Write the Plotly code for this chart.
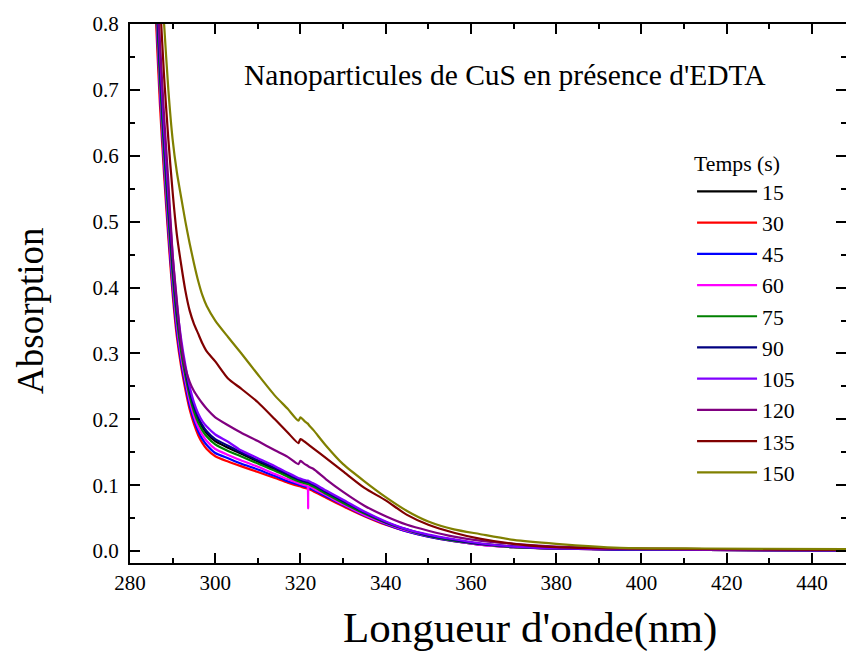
import plotly.graph_objects as go

# longueurs d'onde (nm) communes à tous les spectres
wl = [285, 286, 287, 288, 289, 290, 291, 292, 293, 294, 295, 296, 297, 298, 300, 303, 306, 310,
      314, 317, 319.5, 320, 321, 321.6, 321.8, 322, 323, 326, 330, 335, 340, 345, 350, 356, 362,
      370, 380, 395, 415, 448]

# absorption pour chaque temps (s)
abs_15 = [1.045, 0.87, 0.73, 0.615, 0.518, 0.43, 0.36, 0.31, 0.272, 0.24, 0.217, 0.2, 0.188, 0.179,
          0.167, 0.157, 0.148, 0.136, 0.124, 0.115, 0.108, 0.107, 0.105, 0.104, 0.104, 0.103, 0.100,
          0.089, 0.075, 0.058, 0.044, 0.032, 0.024, 0.017, 0.011, 0.007, 0.004, 0.003, 0.002, 0.001]
abs_30 = [1.00, 0.82, 0.68, 0.57, 0.475, 0.39, 0.325, 0.28, 0.245, 0.215, 0.193, 0.176, 0.164, 0.155,
          0.144, 0.136, 0.129, 0.120, 0.111, 0.104, 0.099, 0.098, 0.096, 0.095, 0.094, 0.094, 0.091,
          0.081, 0.068, 0.053, 0.040, 0.030, 0.022, 0.015, 0.010, 0.006, 0.004, 0.002, 0.002, 0.001]
abs_45 = [1.02, 0.84, 0.70, 0.585, 0.486, 0.40, 0.334, 0.287, 0.252, 0.221, 0.199, 0.182, 0.17, 0.161,
          0.149, 0.141, 0.133, 0.124, 0.114, 0.106, 0.101, 0.100, 0.098, 0.097, 0.096, 0.096, 0.093,
          0.083, 0.070, 0.054, 0.041, 0.030, 0.022, 0.015, 0.010, 0.006, 0.004, 0.002, 0.002, 0.001]
abs_60 = [1.03, 0.85, 0.71, 0.595, 0.497, 0.41, 0.343, 0.295, 0.259, 0.228, 0.205, 0.188, 0.176, 0.167,
          0.155, 0.146, 0.138, 0.128, 0.117, 0.109, 0.103, 0.102, 0.100, 0.099, 0.065, 0.098, 0.095,
          0.085, 0.071, 0.055, 0.042, 0.031, 0.023, 0.016, 0.010, 0.006, 0.004, 0.003, 0.002, 0.001]
abs_75 = [1.04, 0.86, 0.72, 0.605, 0.508, 0.42, 0.352, 0.303, 0.266, 0.235, 0.212, 0.195, 0.183, 0.174,
          0.162, 0.152, 0.144, 0.133, 0.122, 0.113, 0.106, 0.105, 0.103, 0.102, 0.102, 0.101, 0.098,
          0.087, 0.073, 0.057, 0.043, 0.032, 0.023, 0.016, 0.011, 0.006, 0.004, 0.003, 0.002, 0.001]
abs_90 = [1.05, 0.88, 0.74, 0.625, 0.525, 0.435, 0.365, 0.314, 0.275, 0.243, 0.22, 0.203, 0.191, 0.182,
          0.170, 0.160, 0.150, 0.138, 0.126, 0.117, 0.109, 0.108, 0.106, 0.105, 0.105, 0.104, 0.101,
          0.090, 0.076, 0.059, 0.044, 0.033, 0.024, 0.017, 0.011, 0.007, 0.004, 0.003, 0.002, 0.001]
abs_105 = [1.06, 0.90, 0.76, 0.64, 0.54, 0.45, 0.375, 0.322, 0.282, 0.25, 0.226, 0.209, 0.197, 0.189,
           0.177, 0.166, 0.153, 0.141, 0.129, 0.119, 0.111, 0.110, 0.108, 0.107, 0.107, 0.106, 0.103,
           0.092, 0.078, 0.060, 0.045, 0.033, 0.025, 0.018, 0.012, 0.007, 0.004, 0.003, 0.002, 0.001]
abs_120 = [1.07, 0.91, 0.775, 0.66, 0.56, 0.45, 0.38, 0.315, 0.278, 0.257, 0.243, 0.233, 0.224, 0.216,
           0.203, 0.191, 0.180, 0.167, 0.153, 0.143, 0.132, 0.137, 0.132, 0.130, 0.129, 0.128, 0.125,
           0.109, 0.090, 0.069, 0.053, 0.040, 0.031, 0.022, 0.016, 0.011, 0.007, 0.004, 0.003, 0.002]
abs_135 = [1.15, 0.97, 0.84, 0.72, 0.625, 0.545, 0.48, 0.435, 0.395, 0.365, 0.345, 0.33, 0.315, 0.303,
           0.288, 0.262, 0.247, 0.226, 0.200, 0.180, 0.164, 0.170, 0.166, 0.163, 0.162, 0.161, 0.156,
           0.141, 0.121, 0.096, 0.077, 0.055, 0.040, 0.028, 0.019, 0.011, 0.006, 0.004, 0.003, 0.002]
abs_150 = [1.25, 1.05, 0.91, 0.80, 0.70, 0.625, 0.575, 0.537, 0.500, 0.467, 0.437, 0.410, 0.388, 0.372,
           0.350, 0.325, 0.301, 0.268, 0.236, 0.216, 0.198, 0.203, 0.197, 0.194, 0.193, 0.191, 0.184,
           0.160, 0.132, 0.106, 0.082, 0.061, 0.045, 0.033, 0.026, 0.017, 0.011, 0.005, 0.004, 0.003]

temps = ["15", "30", "45", "60", "75", "90", "105", "120", "135", "150"]
spectres = [abs_15, abs_30, abs_45, abs_60, abs_75, abs_90, abs_105, abs_120, abs_135, abs_150]
couleurs = ["#000000", "#FF0000", "#0000FF", "#FF00FF", "#008000",
            "#000080", "#8000FF", "#800080", "#800000", "#808000"]

police = "Liberation Serif, Times New Roman, serif"

fig = go.Figure()
for t, y, c in zip(temps, spectres, couleurs):
    fig.add_trace(go.Scatter(x=wl, y=y, mode="lines", name=t,
                             line=dict(color=c, width=2.2, shape="spline", smoothing=0.6)))

axe = dict(showline=True, linecolor="black", linewidth=2, mirror="ticks",
           ticks="inside", ticklen=10, tickwidth=2, tickcolor="black",
           showgrid=False, zeroline=False, automargin=False,
           tickfont=dict(family=police, size=21, color="black"))

fig.update_xaxes(range=[280, 448], dtick=20, tick0=280,
                 minor=dict(ticks="inside", ticklen=5, tickwidth=2, dtick=10, tick0=280, tickcolor="black"),
                 **axe)
fig.update_yaxes(range=[-0.018, 0.8], dtick=0.1, tick0=0, tickformat=".1f", ticklabelstandoff=5,
                 minor=dict(ticks="inside", ticklen=5, tickwidth=2, dtick=0.05, tick0=0, tickcolor="black"),
                 **axe)

# titres des axes (placés comme dans l'original, décalés du centre)
fig.add_annotation(x=0.559, y=-0.12, xref="paper", yref="paper", showarrow=False,
                   xanchor="center", yanchor="middle",
                   text="Longueur d'onde(nm)",
                   font=dict(family=police, size=43, color="black"))
fig.add_annotation(x=-0.14, y=0.469, xref="paper", yref="paper", showarrow=False,
                   xanchor="center", yanchor="middle",
                   text="Absorption", textangle=-90,
                   font=dict(family=police, size=37, color="black"))

fig.add_annotation(x=0.524, y=0.905, xref="paper", yref="paper", showarrow=False,
                   xanchor="center", yanchor="middle",
                   text="Nanoparticules de CuS en présence d'EDTA",
                   font=dict(family=police, size=29.5, color="black"))

fig.update_layout(
    width=846, height=652,
    margin=dict(l=130, r=0, t=24, b=89),
    paper_bgcolor="white", plot_bgcolor="white",
    font=dict(family=police, color="black"),
    showlegend=True,
    legend=dict(x=0.785, y=0.78, xanchor="left", yanchor="top", itemwidth=60,
                bgcolor="rgba(0,0,0,0)", font=dict(family=police, size=21.7),
                title=dict(text="Temps (s)", font=dict(family=police, size=21.7)),
                tracegroupgap=0),
)

fig.write_html("out.html", config={"displayModeBar": False},
               post_script="document.body.style.margin='0';document.body.style.overflow='hidden';")
